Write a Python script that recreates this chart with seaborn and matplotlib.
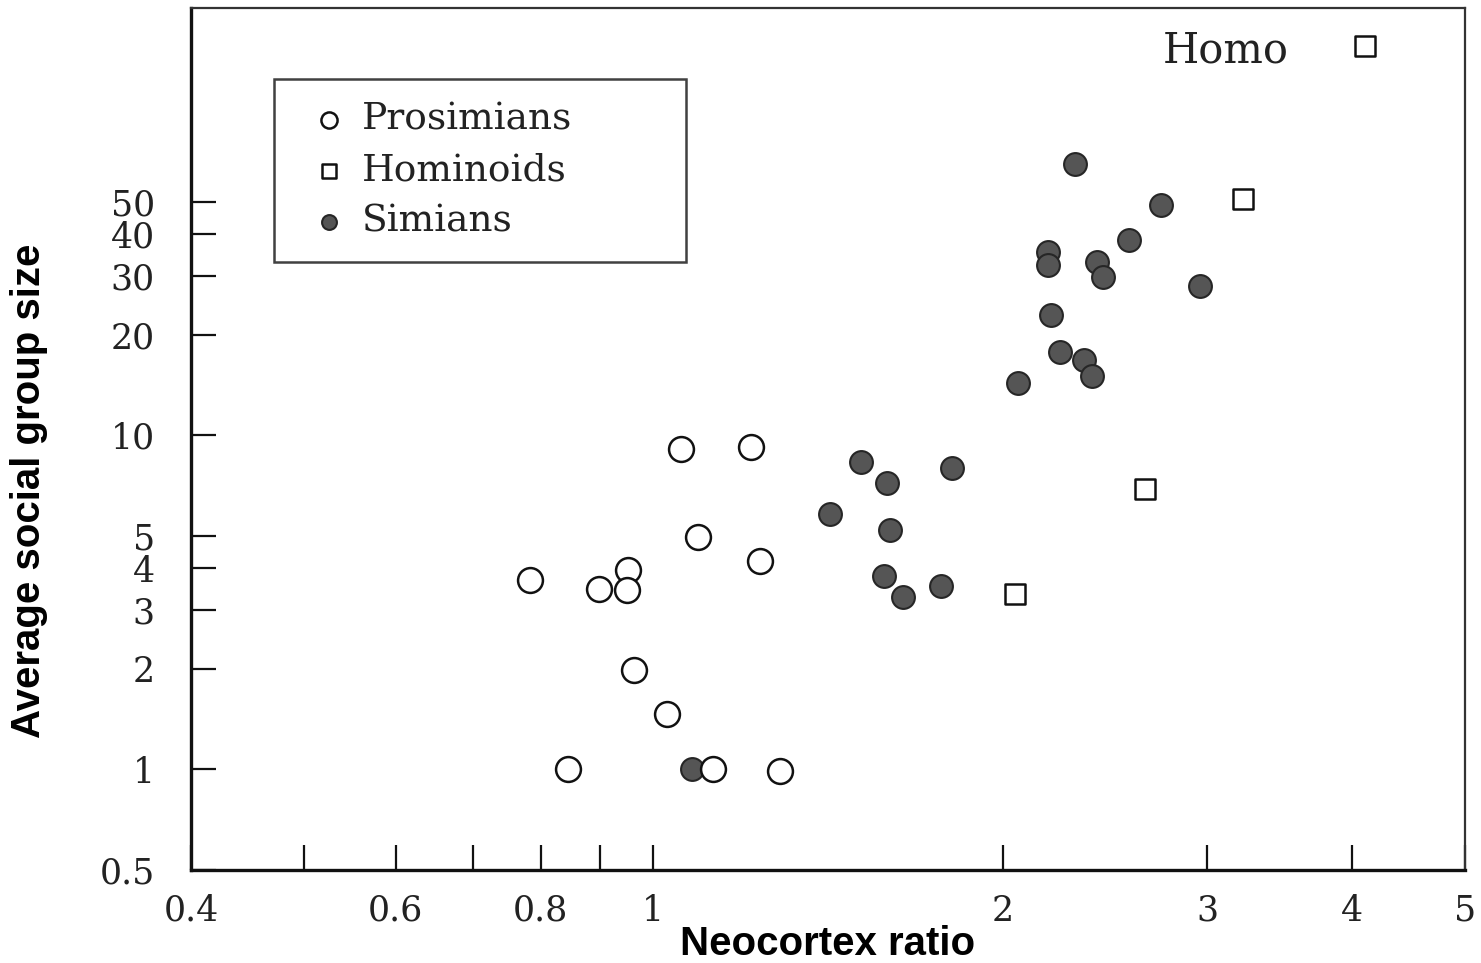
import numpy as np
import pandas as pd
import matplotlib
matplotlib.use("Agg")
import matplotlib.pyplot as plt
import seaborn as sns
from matplotlib.ticker import FixedLocator, FixedFormatter, NullFormatter

# ---- data ----
pros_x = [1.056, 1.215, 1.094, 1.235, 0.783, 0.898, 0.952, 0.950, 0.963, 1.027, 0.845, 1.127, 1.285]
pros_y = [9.1, 9.2, 4.95, 4.2, 3.68, 3.46, 3.95, 3.44, 1.98, 1.47, 1.0, 1.0, 0.99]

homin_x = [2.05, 2.65, 3.22, 4.10]
homin_y = [3.34, 6.9, 51.0, 146.0]

sim_x = [2.31, 2.74, 2.57, 2.19, 2.19, 2.41, 2.44, 2.96, 2.20, 2.24, 2.35, 2.39, 2.06,
         1.51, 1.81, 1.59, 1.42, 1.60, 1.58, 1.77, 1.64, 1.08]
sim_y = [65.0, 49.0, 38.4, 35.3, 32.3, 33.0, 29.7, 27.9, 22.9, 17.7, 16.8, 15.0, 14.3,
         8.3, 7.96, 7.18, 5.8, 5.2, 3.78, 3.53, 3.27, 1.0]

groups = ["Prosimians", "Hominoids", "Simians"]

x_major = [0.4, 0.6, 0.8, 1, 2, 3, 4, 5]
x_major_labels = ["0.4", "0.6", "0.8", "1", "2", "3", "4", "5"]
x_minor = [0.5, 0.7, 0.9]
y_major = [0.5, 1, 2, 3, 4, 5, 10, 20, 30, 40, 50]
y_major_labels = ["0.5", "1", "2", "3", "4", "5", "10", "20", "30", "40", "50"]

xlabel = "Neocortex ratio"
ylabel = "Average social group size"
homo_label = "Homo"

# ---- build frames ----
df_p = pd.DataFrame({"x": pros_x, "y": pros_y, "group": groups[0]})
df_h = pd.DataFrame({"x": homin_x, "y": homin_y, "group": groups[1]})
df_s = pd.DataFrame({"x": sim_x, "y": sim_y, "group": groups[2]})

sns.set_theme(style="white")
plt.rcParams["font.family"] = ["DejaVu Serif"]

fig = plt.figure(figsize=(14.81, 9.63), dpi=100)
ax = fig.add_axes([0.129, 0.0966, 0.860, 0.895])

serif_col = "#222222"

sns.scatterplot(data=df_s, x="x", y="y", marker="o", s=270, facecolor="#555555",
                edgecolor="#262626", linewidth=1.5, ax=ax, label=groups[2], zorder=3)
sns.scatterplot(data=df_h, x="x", y="y", marker="s", s=210, facecolor="white",
                edgecolor="#111111", linewidth=1.8, ax=ax, label=groups[1], zorder=4)
sns.scatterplot(data=df_p, x="x", y="y", marker="o", s=320, facecolor="white",
                edgecolor="#111111", linewidth=1.8, ax=ax, label=groups[0], zorder=5)

ax.set_xscale("log")
ax.set_yscale("log")
ax.set_xlim(0.4, 5.0)
ax.set_ylim(0.5, 190)

ax.xaxis.set_major_locator(FixedLocator(x_major))
ax.xaxis.set_major_formatter(FixedFormatter(x_major_labels))
ax.xaxis.set_minor_locator(FixedLocator(x_minor))
ax.xaxis.set_minor_formatter(NullFormatter())
ax.yaxis.set_major_locator(FixedLocator(y_major))
ax.yaxis.set_major_formatter(FixedFormatter(y_major_labels))
ax.yaxis.set_minor_locator(FixedLocator([]))

ax.tick_params(axis="both", which="both", direction="in", length=18, width=1.6,
               color="#111111", labelsize=25, labelcolor=serif_col)
ax.tick_params(axis="x", which="both", pad=17, bottom=True, top=False)
ax.tick_params(axis="y", which="both", pad=26, left=True, right=False)

for side in ["left", "bottom"]:
    ax.spines[side].set_linewidth(2.4)
    ax.spines[side].set_color("#111111")
for side in ["top", "right"]:
    ax.spines[side].set_linewidth(1.6)
    ax.spines[side].set_color("#333333")

ax.set_xlabel(xlabel, family="Liberation Sans", weight="bold", fontsize=29, color="black")
ax.set_ylabel(ylabel, family="Liberation Sans", weight="bold", fontsize=29, color="black")
ax.yaxis.set_label_coords(-0.112, 0.44)
ax.xaxis.set_label_coords(0.50, -0.064)

ax.text(0.812, 0.951, homo_label, transform=ax.transAxes, ha="center", va="center",
        fontsize=30, color=serif_col)

handles, labels = ax.get_legend_handles_labels()
order = [labels.index(g) for g in groups]
leg = ax.legend([handles[i] for i in order], [labels[i] for i in order],
                loc="upper left", bbox_to_anchor=(0.0652, 0.70, 0.3234, 0.2176),
                mode="expand", fontsize=27,
                markerscale=0.65, frameon=True, fancybox=False, borderpad=0.6,
                labelspacing=0.4, handletextpad=0.0, borderaxespad=0,
                handlelength=1.75)
leg.get_frame().set_edgecolor("#111111")
leg.get_frame().set_linewidth(1.8)
for t in leg.get_texts():
    t.set_color(serif_col)

fig.savefig("out.png", dpi=100, facecolor="white")
